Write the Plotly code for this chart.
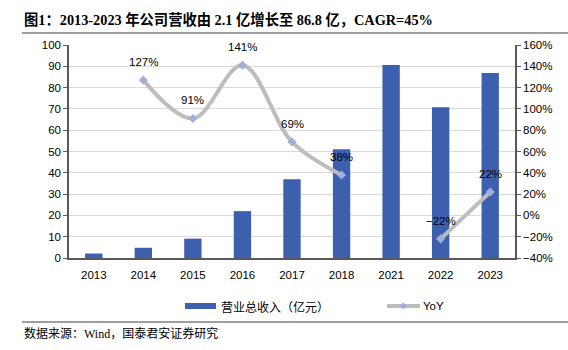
import plotly.graph_objects as go

years = ["2013", "2014", "2015", "2016", "2017", "2018", "2021", "2022", "2023"]
revenue = [2.1, 4.8, 9.1, 22.0, 37.0, 51.1, 90.6, 70.8, 86.8]
yoy = [None, 127, 91, 141, 69, 38, None, -22, 22]
yoy_labels = [None if v is None else f"{v}%".replace("-", "\u2212") for v in yoy]

W, H = 568, 350
L, R, T, B = 69, 53, 45, 92
pw, ph = W - L - R, H - T - B

BAR_COLOR = "#3C5FAE"
LINE_COLOR = "#BDBDBD"
MARKER_COLOR = "#9FB0DA"

def px(x):
    return (x - L) / pw

def py(y):
    return (H - B - y) / ph

fig = go.Figure()
fig.add_trace(go.Bar(
    x=years, y=revenue, name="营业总收入（亿元）",
    marker=dict(color=BAR_COLOR, line=dict(width=0)), width=0.35,
    showlegend=False,
))
fig.add_trace(go.Scatter(
    x=years, y=yoy, name="YoY", yaxis="y2",
    mode="lines+markers",
    line=dict(color=LINE_COLOR, width=4, shape="spline", smoothing=1.0),
    marker=dict(symbol="diamond", size=7, color=MARKER_COLOR),
    connectgaps=False, cliponaxis=False, showlegend=False,
))

# YoY data labels, positioned on the category index of the x axis and the secondary y axis
for i, (v, lab) in enumerate(zip(yoy, yoy_labels)):
    if v is None:
        continue
    fig.add_annotation(xref="x", yref="y2", x=i, y=v, yshift=18, showarrow=False,
                       text=lab, xanchor="center", yanchor="middle",
                       font=dict(family="Liberation Sans, Arial", size=11.5, color="#000000"))

fig.update_layout(
    width=W, height=H, margin=dict(l=L, r=R, t=T, b=B),
    paper_bgcolor="white", plot_bgcolor="white",
    font=dict(family="Liberation Sans, Arial, Noto Sans CJK SC", size=11, color="#000000"),
    xaxis=dict(type="category", categoryorder="array", categoryarray=years,
               range=[-0.5, len(years) - 0.5],
               showline=True, linecolor="#595959", linewidth=1.5,
               ticks="outside", ticklen=5, tickcolor="rgba(0,0,0,0)",
               tickfont=dict(size=11.5), showgrid=False),
    yaxis=dict(range=[0, 100], dtick=10, showline=True, linecolor="#595959", linewidth=1.5,
               ticks="outside", ticklen=4, tickcolor="#595959",
               gridcolor="#D9D9D9", gridwidth=1, zeroline=False, tickfont=dict(size=11.5)),
    yaxis2=dict(range=[-40, 160], dtick=20, overlaying="y", side="right",
                showline=True, linecolor="#595959", linewidth=1.5,
                ticks="outside", ticklen=4, tickcolor="#595959",
                ticksuffix="%", showgrid=False, zeroline=False, tickfont=dict(size=11.5)),
)

# Title and source
fig.add_annotation(
    xref="paper", yref="paper", x=px(22), y=py(19), xanchor="left", yanchor="middle",
    text="<b>图1：2013-2023 年公司营收由 2.1 亿增长至 86.8 亿，CAGR=45%</b>",
    showarrow=False, font=dict(family="Liberation Serif, Noto Sans CJK SC", size=14.3, color="#000000"),
)
fig.add_annotation(
    xref="paper", yref="paper", x=px(22), y=py(333), xanchor="left", yanchor="middle",
    text="数据来源：Wind，国泰君安证券研究",
    showarrow=False, font=dict(family="Liberation Serif, Noto Sans CJK SC", size=12, color="#000000"),
)
for yy in (33, 322):
    fig.add_shape(type="line", xref="paper", yref="paper",
                  x0=px(22), x1=px(568), y0=py(yy), y1=py(yy),
                  line=dict(color="#7F7F7F", width=1.5))

# Legend (drawn)
LY = 306
fig.add_shape(type="rect", xref="paper", yref="paper",
              x0=px(185), x1=px(216), y0=py(LY - 3), y1=py(LY + 3),
              fillcolor=BAR_COLOR, line=dict(width=0))
fig.add_annotation(xref="paper", yref="paper", x=px(219), y=py(LY), xanchor="left", yanchor="middle",
                   text="营业总收入（亿元）", showarrow=False,
                   font=dict(family="Noto Sans CJK SC", size=12, color="#000000"))
fig.add_shape(type="line", xref="paper", yref="paper",
              x0=px(387), x1=px(420), y0=py(LY), y1=py(LY),
              line=dict(color=LINE_COLOR, width=4))
fig.add_shape(type="path", xref="paper", yref="paper",
              path=f"M {px(403.5)} {py(LY-3.5)} L {px(407)} {py(LY)} L {px(403.5)} {py(LY+3.5)} L {px(400)} {py(LY)} Z",
              fillcolor=MARKER_COLOR, line=dict(width=0))
fig.add_annotation(xref="paper", yref="paper", x=px(421), y=py(LY), xanchor="left", yanchor="middle",
                   text="YoY", showarrow=False,
                   font=dict(family="Liberation Sans, Arial", size=11.5, color="#000000"))

fig.write_html("out.html")
